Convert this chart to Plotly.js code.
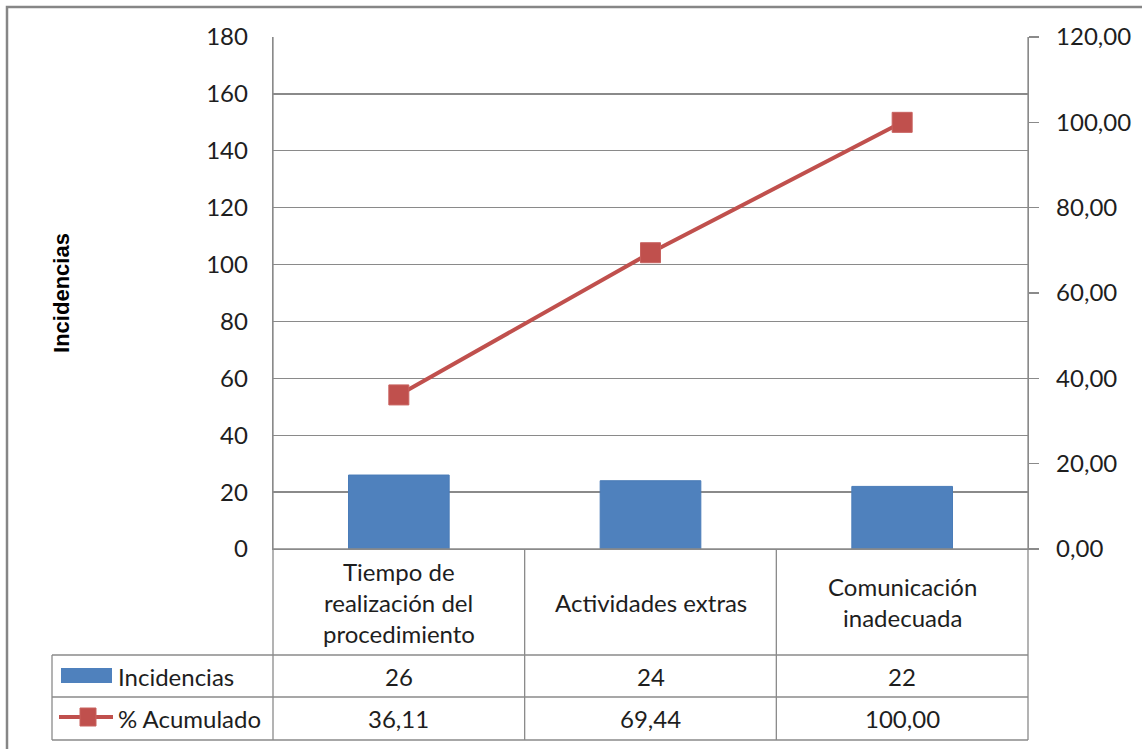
<!DOCTYPE html>
<html>
<head>
<meta charset="utf-8">
<script src="https://cdn.plot.ly/plotly-3.0.1.min.js"></script>
<style>html,body{margin:0;padding:0;background:#fff;}</style>
</head>
<body>
<div id="chart" style="width:1142px;height:749px;"></div>
<script>
// Pareto data: incidences per cause and cumulative percentage
const categories = ['Tiempo de<br>realización del<br>procedimiento', 'Actividades extras', 'Comunicación<br>inadecuada'];
const incidencias = [26, 24, 22];
const acumulado = [36.11, 69.44, 100.00];
const seriesNames = ['Incidencias', '% Acumulado'];
const axisTitle = 'Incidencias';
const leftTicks = [0, 20, 40, 60, 80, 100, 120, 140, 160, 180];
const rightTicks = [0, 20, 40, 60, 80, 100, 120];

// Layout geometry (pixels)
const W = 1142, H = 749;
const L = 273, R = 1028, T = 37, B = 549;
const rowCatBottom = 655, rowIncBottom = 697, rowAcuBottom = 740, legendLeft = 52;
const px2x = px => (px - L) / (R - L);
const px2y = py => (B - py) / (B - T);

const FONT = 'Lato, "Open Sans", sans-serif';
const FS = 24;
const TXT = '#1e1e1e';
const GRID = '#8a8a8a';
const BLUE = '#4F81BD';
const RED = '#C0504D';

const fmt = v => v.toFixed(2).replace('.', ',');

const shapes = [];
const line = (x0, y0, x1, y1, color, width) => shapes.push({
  type: 'line', xref: 'paper', yref: 'paper',
  x0: px2x(x0), y0: px2y(y0), x1: px2x(x1), y1: px2y(y1),
  line: {color: color || GRID, width: width || 1.3}
});

// column edges of the data table, one per category boundary
const colEdges = [];
for (let i = 0; i <= categories.length; i++) colEdges.push(L + (R - L) * i / categories.length);

// data table grid
line(L, B, R, B);
[rowCatBottom, rowIncBottom, rowAcuBottom].forEach(y => line(legendLeft, y, R, y));
line(legendLeft, rowCatBottom, legendLeft, rowAcuBottom);
line(L, T, L, rowAcuBottom);
line(R, T, R, rowAcuBottom);
colEdges.slice(1, -1).forEach(x => line(x, B, x, rowAcuBottom));

// legend keys inside the table
shapes.push({type: 'rect', xref: 'paper', yref: 'paper',
  x0: px2x(61), x1: px2x(112), y0: px2y(668), y1: px2y(683),
  fillcolor: BLUE, line: {width: 0}});
line(59, 717, 113, 717, RED, 4);
shapes.push({type: 'rect', xref: 'paper', yref: 'paper',
  x0: px2x(80), x1: px2x(96), y0: px2y(708), y1: px2y(726),
  fillcolor: RED, line: {color: '#c8625f', width: 1}});

// outer chart frame
shapes.push({type: 'rect', xref: 'paper', yref: 'paper', layer: 'below',
  x0: px2x(7), x1: px2x(1170), y0: px2y(7), y1: px2y(770),
  line: {color: '#868686', width: 2.5}, fillcolor: 'rgba(0,0,0,0)'});

const annotations = [];
const txt = (text, xPx, yPx, anchor) => annotations.push({
  text: text, xref: 'paper', yref: 'paper', x: px2x(xPx), y: px2y(yPx),
  xanchor: anchor || 'center', yanchor: 'middle', showarrow: false,
  font: {family: FONT, size: FS, color: TXT}
});

// category names, one annotation per line
const catMid = (B + rowCatBottom) / 2, lineGap = 31;
categories.forEach((c, i) => {
  const parts = c.split('<br>');
  const cx = (colEdges[i] + colEdges[i + 1]) / 2;
  parts.forEach((p, k) => txt(p, cx, catMid + (k - (parts.length - 1) / 2) * lineGap));
});

// value rows
const incMid = (rowCatBottom + rowIncBottom) / 2;
const acuMid = (rowIncBottom + rowAcuBottom) / 2;
incidencias.forEach((v, i) => txt(String(v), (colEdges[i] + colEdges[i + 1]) / 2, incMid));
acumulado.forEach((v, i) => txt(fmt(v), (colEdges[i] + colEdges[i + 1]) / 2, acuMid));
txt(seriesNames[0], 116, incMid, 'left');
txt(seriesNames[1], 116, acuMid, 'left');

const traces = [
  {
    type: 'bar', x: categories, y: incidencias, name: seriesNames[0],
    width: 0.4,
    marker: {color: BLUE, line: {color: '#4a7cb8', width: 1}},
    yaxis: 'y'
  },
  {
    type: 'scatter', mode: 'lines+markers', x: categories, y: acumulado, name: seriesNames[1],
    line: {color: RED, width: 4},
    marker: {symbol: 'square', size: 20, color: RED, line: {color: '#c8625f', width: 1}},
    yaxis: 'y2'
  }
];

const layout = {
  width: W, height: H,
  margin: {l: L, r: W - R, t: T, b: H - B, pad: 0},
  paper_bgcolor: '#fff', plot_bgcolor: '#fff',
  showlegend: false,
  hovermode: false,
  separators: ',.',
  font: {family: FONT, size: FS, color: TXT},
  bargap: 0.6,
  xaxis: {
    type: 'category', range: [-0.5, categories.length - 0.5],
    showticklabels: false, ticks: '', showgrid: false, zeroline: false,
    showline: true, linecolor: GRID, linewidth: 1.3, fixedrange: true
  },
  yaxis: {
    range: [0, 180], tickvals: leftTicks, ticks: '',
    showgrid: true, gridcolor: GRID, gridwidth: 1.3,
    zeroline: false, showline: true, linecolor: GRID, linewidth: 1.3,
    ticklabelstandoff: 19,
    tickfont: {family: FONT, size: FS, color: TXT},
    title: {text: axisTitle, standoff: 130,
      font: {family: '"Liberation Sans", Arial, sans-serif', size: 22, color: '#000', weight: 'bold'}},
    automargin: false, fixedrange: true
  },
  yaxis2: {
    overlaying: 'y', side: 'right',
    range: [0, 120], tickvals: rightTicks, tickformat: '.2f',
    ticks: 'outside', ticklen: 10, tickcolor: GRID, tickwidth: 1.3,
    showgrid: false, zeroline: false,
    showline: true, linecolor: GRID, linewidth: 1.3,
    ticklabelstandoff: 12,
    tickfont: {family: FONT, size: FS, color: TXT},
    automargin: false, fixedrange: true
  },
  shapes: shapes,
  annotations: annotations
};

Plotly.newPlot('chart', traces, layout, {staticPlot: true, displayModeBar: false});
</script>
</body>
</html>
